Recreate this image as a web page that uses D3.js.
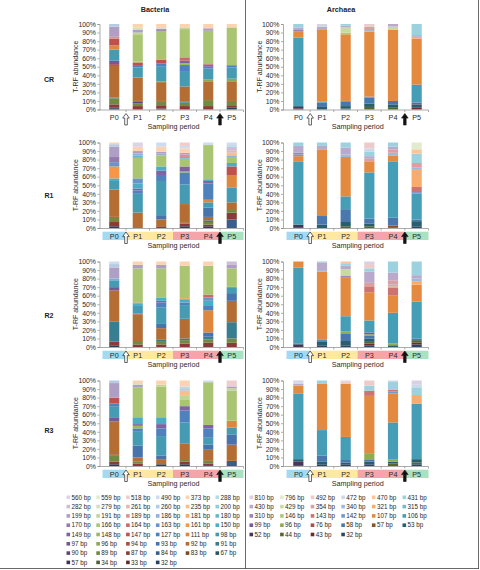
<!DOCTYPE html>
<meta charset="utf-8">
<script src="https://d3js.org/d3.v7.min.js"></script>
<body style="margin:0;background:#fff">
<div id="chart"></div>
<script>
// sampling periods and treatments
const periods = ["P0", "P1", "P2", "P3", "P4", "P5"];
const treatments = ["CR", "R1", "R2", "R3"];
const yTicks = [0, 10, 20, 30, 40, 50, 60, 70, 80, 90, 100];

// T-RFs (bp), in series order (first one is stacked at the bottom)
const bacteriaTRF = [32, 33, 34, 57, 67, 83, 84, 87, 89, 90, 91, 92, 93, 94, 96, 97, 98, 111, 127, 147,
  148, 149, 150, 161, 163, 164, 166, 170, 180, 181, 186, 189, 191, 199, 200, 235, 260, 261, 279, 282,
  288, 373, 490, 518, 559, 560];
const archaeaTRF = [32, 43, 44, 52, 53, 57, 58, 76, 96, 99, 106, 107, 142, 143, 146, 310, 315, 321,
  340, 354, 429, 430, 431, 470, 472, 492, 796, 810];

// relative abundance (%) per sampling period, as [T-RF, value]
const bacteriaCR = [
  [[32,1.5],[57,1],[87,3.5],[89,7],[91,1],[92,37],[94,2],[97,4],[98,13],[111,5],[147,8],[189,2],[199,12],[260,3]],
  [[87,4],[89,3],[90,2],[91,1],[92,27],[96,1],[98,11],[127,2],[147,4],[148,1],[166,32],[191,2],[199,3],[279,3],[373,4]],
  [[32,1],[87,4],[89,4],[91,1],[92,22],[96,1],[98,17],[127,4],[147,4],[166,34],[170,2],[288,1],[373,5]],
  [[87,4],[89,4],[91,1],[92,18],[98,17],[127,8],[148,2],[149,3],[164,4],[166,33],[191,2],[373,4]],
  [[87,4],[89,7],[92,22],[96,2],[98,13],[127,2],[149,2],[164,1],[166,39],[199,3],[373,5]],
  [[32,2],[87,3],[89,5],[92,23],[96,3],[98,13],[127,2],[164,1],[166,44],[373,4]]
];
const bacteriaR1 = [
  [[32,2],[87,5],[89,6],[92,32],[98,10],[150,3],[161,14],[163,5],[170,6],[199,12],[260,3],[373,2]],
  [[92,18],[98,22],[127,4],[149,2],[150,6],[163,6],[166,24],[180,3],[186,2],[199,3],[373,5],[560,5]],
  [[87,2],[92,8],[93,5],[98,40],[127,7],[149,5],[150,5],[166,13],[186,2],[199,2],[373,6],[490,5]],
  [[32,2],[87,3],[89,1],[92,22],[98,23],[127,14],[148,1],[149,6],[166,9],[180,2],[189,3],[199,2],[373,5],[490,3],[518,4]],
  [[32,2],[87,2],[89,3],[91,2],[92,4],[93,11],[98,6],[111,3],[127,19],[149,3],[150,2],[166,40],[490,3]],
  [[84,10],[87,8],[89,3],[92,9],[98,17],[111,15],[147,10],[150,4],[166,6],[186,3],[235,3],[261,3],[282,4],[288,2],[490,3]]
];
const bacteriaR2 = [
  [[32,2],[87,4],[89,1],[91,23],[92,36],[97,4],[98,8],[180,2],[199,13],[260,4],[490,3]],
  [[87,3],[89,4],[92,31],[94,1],[98,9],[150,3],[164,1],[166,40],[199,4],[373,4]],
  [[87,3],[89,4],[91,2],[92,13],[93,5],[98,19],[127,6],[149,2],[150,4],[166,34],[199,4],[373,4]],
  [[87,4],[89,4],[91,2],[92,23],[98,16],[127,3],[150,3],[161,2],[166,38],[373,5]],
  [[87,5],[89,4],[91,3],[93,5],[111,26],[127,5],[150,6],[163,4],[164,3],[166,34],[373,5]],
  [[87,5],[89,5],[91,19],[92,25],[93,9],[98,7],[148,1],[166,21],[199,4],[282,4]]
];
const bacteriaR3 = [
  [[32,2],[87,3],[89,7],[91,1],[92,39],[97,5],[98,13],[127,3],[147,7],[199,17],[260,3]],
  [[87,3],[89,2],[92,5],[93,14],[98,16],[127,4],[148,3],[149,2],[150,8],[166,35],[199,3],[279,2],[373,3]],
  [[32,2],[92,6],[93,4],[98,23],[127,9],[149,5],[150,8],[166,36],[191,2],[373,5]],
  [[32,2],[87,3],[89,2],[92,19],[98,25],[127,14],[149,5],[166,8],[191,4],[235,6],[282,2],[288,3],[373,7]],
  [[32,1],[87,2],[89,3],[92,13],[93,6],[98,8],[127,11],[149,4],[166,50],[490,2]],
  [[84,6],[92,19],[93,12],[98,8],[111,8],[166,35],[191,3],[199,2],[518,7]]
];
const archaeaCR = [
  [[43,1],[52,2],[53,1],[106,80],[107,7],[310,2],[430,3],[431,4]],
  [[53,3],[58,5],[106,1],[107,84],[430,4],[810,3]],
  [[44,1],[53,3],[58,5],[106,1],[107,78],[146,2],[429,6],[430,2],[431,2]],
  [[44,3],[53,4],[58,7],[106,1],[107,76],[340,2],[354,4],[492,3]],
  [[44,2],[53,4],[58,4],[107,83],[429,4],[430,3]],
  [[43,2],[53,4],[99,2],[106,21],[107,54],[321,2],[430,2],[431,13]]
];
const archaeaR1 = [
  [[32,1],[52,3],[106,74],[107,6],[142,2],[310,2],[430,8],[431,4]],
  [[53,4],[58,10],[106,1],[107,77],[430,4],[431,4]],
  [[44,2],[53,5],[58,15],[106,15],[107,46],[340,3],[430,8],[431,6]],
  [[44,2],[53,3],[58,6],[106,54],[107,13],[354,3],[430,3],[431,5],[472,4],[492,7]],
  [[44,1],[57,2],[58,9],[106,66],[107,7],[340,3],[354,4],[430,3],[431,5]],
  [[32,2],[53,6],[58,2],[106,30],[142,2],[143,6],[321,20],[340,3],[354,5],[431,11],[470,5],[796,8]]
];
const archaeaR2 = [
  [[52,3],[53,1],[106,89],[107,7]],
  [[32,2],[53,4],[58,2],[106,1],[107,79],[340,2],[430,9],[431,1]],
  [[32,2],[53,5],[58,9],[96,2],[106,18],[107,45],[310,2],[429,8],[430,4],[431,3],[470,2]],
  [[32,2],[43,2],[44,2],[53,4],[58,3],[96,2],[99,2],[106,14],[107,33],[143,7],[354,4],[430,13],[431,4],[492,5],[810,3]],
  [[53,2],[96,2],[106,36],[107,20],[143,9],[321,2],[340,2],[354,5],[430,9],[431,13]],
  [[32,3],[43,2],[44,3],[58,2],[106,43],[107,20],[321,4],[340,3],[430,4],[431,16]]
];
const archaeaR3 = [
  [[32,1],[52,4],[53,3],[106,77],[107,9],[430,2],[472,2],[810,2]],
  [[32,2],[53,3],[58,7],[106,30],[107,54],[431,4]],
  [[32,2],[53,2],[58,3],[106,27],[107,62],[492,3],[810,1]],
  [[32,2],[53,3],[58,2],[96,8],[107,67],[143,6],[431,6],[492,6]],
  [[44,3],[53,2],[96,3],[106,43],[107,34],[142,2],[143,2],[431,10],[810,1]],
  [[32,2],[44,2],[53,4],[106,65],[321,10],[431,9],[472,3],[810,5]]
];

const font = "'Liberation Sans', Arial, sans-serif";
const textColor = "#2a2a2a";

// office colour cycle, each round of six is shaded darker -> lighter
const accents = ["#4F81BD", "#C0504D", "#9BBB59", "#8064A2", "#4BACC6", "#F79646"];
function palette(keys, levels) {
  return d3.scaleOrdinal()
    .domain(keys)
    .range(keys.map((k, i) => {
      const t = levels[Math.floor(i / 6)];
      return t < 0 ? d3.interpolateRgb(accents[i % 6], "#000")(-t)
                   : d3.interpolateRgb(accents[i % 6], "#fff")(t);
    }));
}
const bacColor = palette(bacteriaTRF, [-0.5, -0.27, -0.1, 0, 0.15, 0.38, 0.58, 0.72]);
const arcColor = palette(archaeaTRF, [-0.45, -0.08, 0.2, 0.45, 0.7]);

const svg = d3.select("#chart").append("svg")
  .attr("width", 480)
  .attr("height", 570)
  .style("font-family", font);

// panel tops (100%) and height
const panelTop = [24, 142.5, 261.5, 380.5];
const panelH = 85.5;

const boxGroups = [
  {from: "P0", to: "P0", fill: "#A3DAF2"},
  {from: "P1", to: "P2", fill: "#FFE8A0"},
  {from: "P3", to: "P4", fill: "#F5A5AA"},
  {from: "P5", to: "P5", fill: "#A8E2C0"}
];

function arrow(g, cx, top, bottom, filled) {
  const hw = 3.3, hh = 4.6, sw = 1.3;
  g.append("path")
    .attr("d", `M${cx},${top} L${cx + hw},${top + hh} L${cx + sw},${top + hh} L${cx + sw},${bottom}
      L${cx - sw},${bottom} L${cx - sw},${top + hh} L${cx - hw},${top + hh} Z`)
    .attr("fill", filled ? "#111" : "#fff")
    .attr("stroke", "#222")
    .attr("stroke-width", 0.7);
}

function drawPanel(bars, keys, color, axisX, range, row) {
  const top = panelTop[row], bottom = top + panelH;
  const g = svg.append("g");

  const rows = periods.map((p, i) => {
    const r = {period: p};
    keys.forEach(k => r[k] = 0);
    bars[i].forEach(([k, v]) => r[k] = v);
    return r;
  });
  const series = d3.stack().keys(keys).offset(d3.stackOffsetExpand)(rows);

  const x = d3.scaleBand().domain(periods).range(range).paddingInner(0.57).paddingOuter(0.285);
  const y = d3.scaleLinear().domain([0, 1]).range([bottom, top]);
  const gap = x.step() - x.bandwidth();

  g.append("g")
    .selectAll("g")
    .data(series)
    .join("g")
      .attr("fill", d => color(d.key))
    .selectAll("rect")
    .data(d => d.filter(s => s[1] - s[0] > 0))
    .join("rect")
      .attr("x", d => x(d.data.period))
      .attr("y", d => y(d[1]))
      .attr("width", x.bandwidth())
      .attr("height", d => y(d[0]) - y(d[1]));

  // y axis
  const yAxis = g.append("g")
    .attr("transform", `translate(${axisX},0)`)
    .call(d3.axisLeft(y).tickValues(yTicks.map(v => v / 100)).tickFormat(d3.format(".0%")).tickSize(2).tickPadding(1.5));
  yAxis.selectAll("path,line").attr("stroke", "#888").attr("stroke-width", 0.7);
  yAxis.selectAll("text").attr("font-size", 6.9).attr("fill", textColor).attr("font-family", font);

  // x axis line with ticks between categories
  g.append("line")
    .attr("x1", axisX).attr("x2", range[1])
    .attr("y1", bottom + 0.5).attr("y2", bottom + 0.5)
    .attr("stroke", "#888").attr("stroke-width", 0.7);
  g.selectAll(".xt")
    .data(periods.slice(1).concat(["end"]))
    .join("line")
      .attr("x1", d => d === "end" ? range[1] : x(d) - gap / 2)
      .attr("x2", d => d === "end" ? range[1] : x(d) - gap / 2)
      .attr("y1", bottom + 0.5).attr("y2", bottom + 2.5)
      .attr("stroke", "#888").attr("stroke-width", 0.7);

  // coloured period boxes (not on the CR row)
  if (row > 0) {
    g.selectAll(".box")
      .data(boxGroups)
      .join("rect")
        .attr("x", d => x(d.from) - gap / 2)
        .attr("width", d => x(d.to) + x.bandwidth() + gap / 2 - (x(d.from) - gap / 2))
        .attr("y", bottom + 3.7)
        .attr("height", 8.3)
        .attr("fill", d => d.fill);
  }

  g.selectAll(".pl")
    .data(periods)
    .join("text")
      .attr("x", d => x(d) + x.bandwidth() / 2)
      .attr("y", bottom + 10.5)
      .attr("text-anchor", "middle")
      .attr("font-size", 7.2)
      .attr("fill", textColor)
      .text(d => d);

  arrow(g, x("P1") - gap / 2, bottom + 4, bottom + 15.5, false);
  arrow(g, x("P5") - gap / 2, bottom + 4, bottom + 15.5, true);

  g.append("text")
    .attr("x", (axisX + range[1]) / 2 + 2)
    .attr("y", bottom + 19.8)
    .attr("text-anchor", "middle")
    .attr("font-size", 7.2)
    .attr("fill", textColor)
    .text("Sampling  period");

  g.append("text")
    .attr("transform", `translate(${axisX - 23.5},${(top + bottom) / 2}) rotate(-90)`)
    .attr("text-anchor", "middle")
    .attr("dy", "0.35em")
    .attr("font-size", 7)
    .attr("fill", textColor)
    .text("T-RF abundance");
}

const bacteriaPanels = [bacteriaCR, bacteriaR1, bacteriaR2, bacteriaR3];
const archaeaPanels = [archaeaCR, archaeaR1, archaeaR2, archaeaR3];
bacteriaPanels.forEach((d, i) => drawPanel(d, bacteriaTRF, bacColor, 99.5, [102.5, 243.5], i));
archaeaPanels.forEach((d, i) => drawPanel(d, archaeaTRF, arcColor, 283, [286.5, 428.5], i));

// treatment labels
const rowLabelY = [80, 196, 316, 431];
svg.selectAll(".rl")
  .data(treatments)
  .join("text")
    .attr("x", 49)
    .attr("y", (d, i) => rowLabelY[i])
    .attr("dy", "0.35em")
    .attr("text-anchor", "middle")
    .attr("font-size", 7)
    .attr("font-weight", "bold")
    .attr("fill", "#222")
    .text(d => d);

// column titles
svg.append("text").attr("x", 155).attr("y", 11.5).attr("text-anchor", "middle")
  .attr("font-size", 7.2).attr("font-weight", "bold").attr("fill", "#222").text("Bacteria");
svg.append("text").attr("x", 341).attr("y", 11.5).attr("text-anchor", "middle")
  .attr("font-size", 7.2).attr("font-weight", "bold").attr("fill", "#222").text("Archaea");

// legends, reversed series order in rows of six
function legend(keys, color, x0, step) {
  const items = keys.slice().reverse();
  const g = svg.append("g").selectAll("g")
    .data(items)
    .join("g")
      .attr("transform", (d, i) => `translate(${x0 + (i % 6) * step},${497.3 + Math.floor(i / 6) * 9.3})`);
  g.append("rect")
    .attr("x", 0).attr("y", -1.8).attr("width", 3.6).attr("height", 3.6)
    .attr("fill", d => color(d));
  g.append("text")
    .attr("x", 5)
    .attr("dy", "0.35em")
    .attr("font-size", 6.3)
    .attr("fill", textColor)
    .text(d => d + " bp");
}
legend(bacteriaTRF, bacColor, 66.5, 29.8);
legend(archaeaTRF, arcColor, 249.5, 30.6);

// frame lines
svg.append("line").attr("x1", 245.5).attr("x2", 245.5).attr("y1", 0).attr("y2", 569)
  .attr("stroke", "#444").attr("stroke-width", 0.8);
svg.append("line").attr("x1", 478.5).attr("x2", 478.5).attr("y1", 0).attr("y2", 569)
  .attr("stroke", "#444").attr("stroke-width", 0.8);
svg.append("line").attr("x1", 0).attr("x2", 479).attr("y1", 568.5).attr("y2", 568.5)
  .attr("stroke", "#444").attr("stroke-width", 0.8);
</script>
</body>
